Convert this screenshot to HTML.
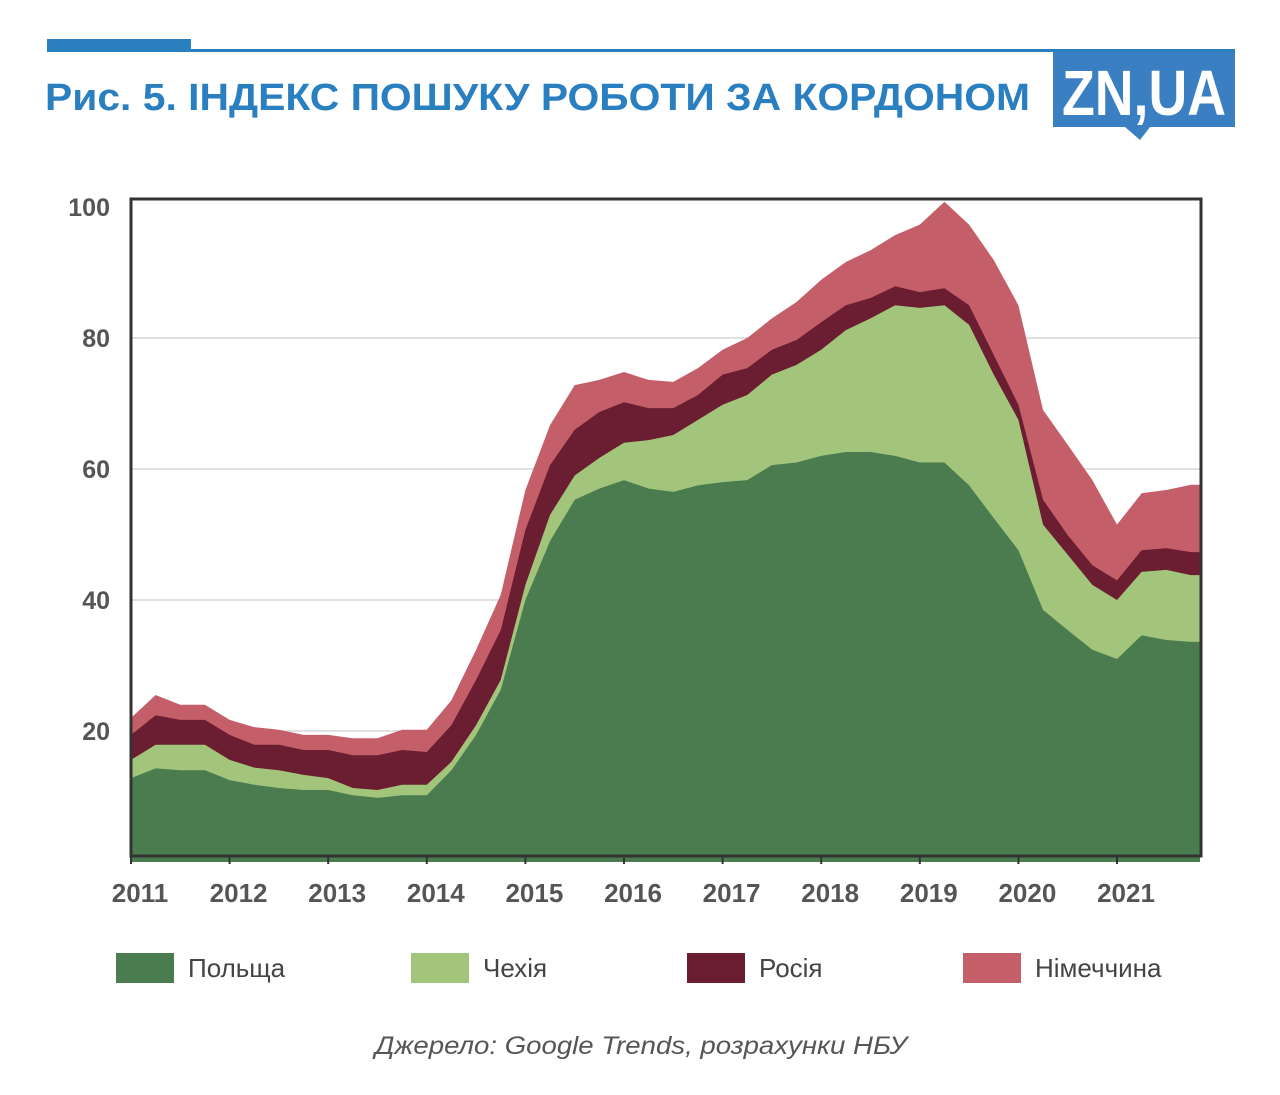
<!DOCTYPE html>
<html><head><meta charset="utf-8"><style>
body{margin:0;width:1280px;height:1090px;background:#fff;font-family:"Liberation Sans",sans-serif;overflow:hidden}
</style></head><body>
<svg width="1280" height="1090">
<rect x="47" y="39" width="144" height="13" fill="#2a7fc0"/>
<rect x="47" y="49" width="1188" height="3" fill="#2a7fc0"/>
<text x="45" y="110" font-size="38" font-weight="bold" fill="#2a7fc0" textLength="985" lengthAdjust="spacingAndGlyphs">Рис. 5. ІНДЕКС ПОШУКУ РОБОТИ ЗА КОРДОНОМ</text>
<g>
<rect x="1053" y="52" width="182" height="75" fill="#3a7fc1"/>
<polygon points="1125,127 1150,127 1140,140" fill="#3a7fc1"/>
<text x="1144" y="115" font-size="64" font-weight="bold" fill="#fff" text-anchor="middle" textLength="164" lengthAdjust="spacingAndGlyphs">ZN,UA</text>
</g>
<g id="grid"></g>
<g id="areas"></g>
<rect x="131" y="199" width="1070" height="657" fill="none" stroke="#333" stroke-width="3"/>
<g id="axes"></g>
<g id="legend"></g>
<text x="375" y="1054" font-size="25" font-style="italic" fill="#555" textLength="532" lengthAdjust="spacingAndGlyphs">Джерело: Google Trends, розрахунки НБУ</text>
</svg>
<script>
const startYear = 2011, step = 0.25;
const poland = [12.8,14.3,14,14,12.5,11.8,11.3,11,11,10.2,9.8,10.2,10.2,14,19.4,26.3,40,49,55.3,57,58.3,57,56.5,57.5,58,58.3,60.6,61,62,62.6,62.6,62,61,61,57.5,52.5,47.6,38.5,35.4,32.4,31,34.6,33.9,33.6];
const czech = [2.8,3.6,3.9,3.9,3.1,2.6,2.7,2.3,1.8,1.1,1.2,1.6,1.6,1.3,1.5,1.5,2.3,4,3.7,4.7,5.7,7.4,8.7,10,11.8,13,13.8,14.9,16.2,18.6,20.4,23,23.6,24,24.5,21.9,19.9,13,11.5,9.9,9,9.7,10.7,10.2];
const russia = [3.8,4.5,3.8,3.8,3.8,3.5,3.9,3.8,4.3,5,5.3,5.3,5,5.6,6.9,7.6,8.4,7.6,7,7,6.2,4.9,4.1,3.8,4.6,4.1,3.8,3.8,4.2,3.8,3.1,2.9,2.4,2.6,3,3,2.3,3.8,3,3,3,3.3,3.3,3.5];
const germany = [2.6,3.1,2.3,2.3,2.3,2.7,2.3,2.3,2.3,2.6,2.6,3.1,3.4,3.8,4.6,5.4,6.1,6.1,6.8,4.9,4.6,4.3,4,4.1,3.8,4.6,4.8,5.8,6.5,6.6,7.3,7.8,10.3,13.2,12.3,14.5,15.2,13.7,13.8,13,8.5,8.7,8.9,10.3];
const yTicks = [20,40,60,80,100];
const xYears = [2011,2012,2013,2014,2015,2016,2017,2018,2019,2020,2021];
const seriesNames = ["Польща","Чехія","Росія","Німеччина"];
const colors = ["#4a7c50","#a3c57b","#6b1d31","#c45f6a"];
const NS="http://www.w3.org/2000/svg";
const X = t => 131 + (t - 2011) * 98.6;
const Y = v => 862 - v * 6.55;
function mk(tag, attrs, parent){const e=document.createElementNS(NS,tag);for(const k in attrs)e.setAttribute(k,attrs[k]);parent.appendChild(e);return e;}
const grid=document.getElementById('grid'), areas=document.getElementById('areas'), axes=document.getElementById('axes'), legend=document.getElementById('legend');
yTicks.forEach(v=>{
  if(v<100){const l=mk('line',{x1:131,x2:1201,y1:Y(v),y2:Y(v),stroke:'#d6d6d6','stroke-width':1.5},grid);
  
  }
  const t=mk('text',{x:110,y:Y(v)+9,'font-size':25,'font-weight':'bold',fill:'#555','text-anchor':'end'},axes);
  t.textContent=v;
  
  
});
xYears.forEach(yr=>{
  const t=mk('text',{x:X(yr)+9,y:902,'font-size':26,'font-weight':'bold',fill:'#555','text-anchor':'middle'},axes);
  t.textContent=yr;
  
  
  const k=mk('line',{x1:X(yr),x2:X(yr),y1:856,y2:864,stroke:'#333','stroke-width':2},axes);
  
  
});
const all=[poland,czech,russia,germany];
const n=poland.length;
let base=new Array(n).fill(0);
const layers=[];
all.forEach(s=>{const top=base.map((b,i)=>b+s[i]);layers.push([base.slice(),top]);base=top;});
for(let k=layers.length-1;k>=0;k--){
  const [lo,hi]=layers[k];
  let d='M'+X(startYear)+','+Y(0);
  for(let i=0;i<n;i++){d+=' L'+X(startYear+i*step)+','+Y(hi[i]);}
  const xe=Math.min(X(startYear+(n-1)*step)+10,1200);
  d+=' L'+xe+','+Y(hi[n-1])+' L'+xe+','+Y(0)+' Z';
  const p=mk('path',{d:d,fill:colors[k]},areas);
  
  
}
const lx=[116,411,687,963];
seriesNames.forEach((nm,i)=>{
  const r=mk('rect',{x:lx[i],y:953,width:58,height:30,fill:colors[i]},legend);
  
  
  const t=mk('text',{x:lx[i]+72,y:977,'font-size':26,fill:'#444'},legend);
  t.textContent=nm;
  
  
});
</script>
</body></html>
